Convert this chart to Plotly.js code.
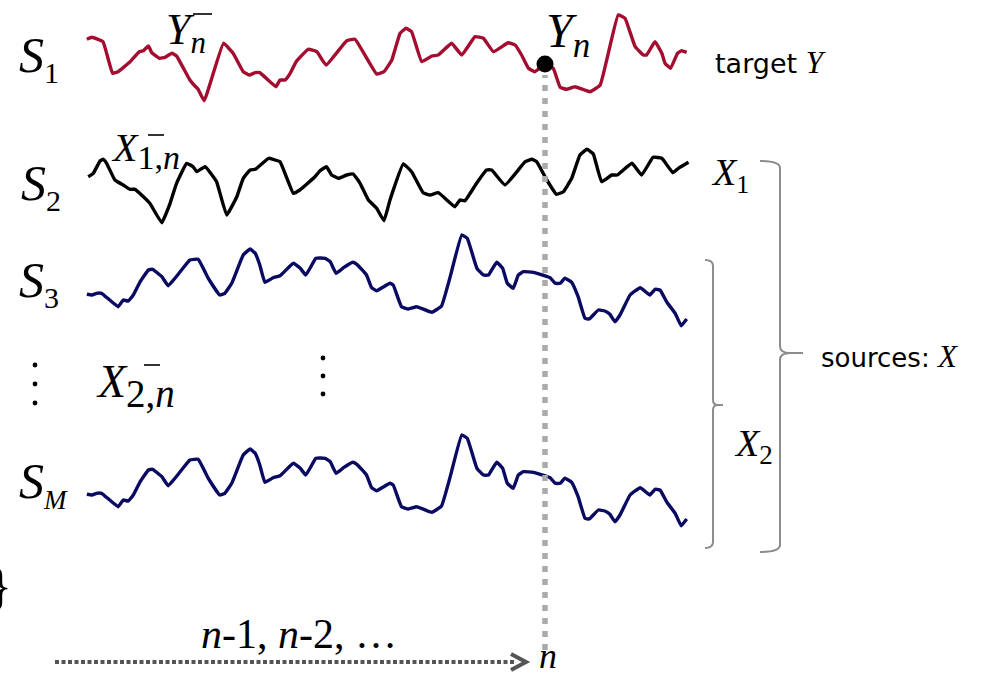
<!DOCTYPE html>
<html>
<head>
<meta charset="utf-8">
<script src="https://cdn.plot.ly/plotly-3.0.1.min.js"></script>
<style>
  html, body { margin: 0; padding: 0; background: #ffffff; }
  #chart { width: 992px; height: 676px; }
</style>
</head>
<body>
<div id="chart"></div>
<script>
// ---- signal data: sample times (n = 100 is the current step) and values ----
const nIndex = 100;

// S1 : target Y
const tS1 = [0.4,1.5,3.9,6.0,7.2,9.8,11.8,12.7,13.8,14.5,16.2,17.4,18.9,19.9,22.8,23.9,24.6,25.9,30.1,32.2,34.4,35.7,37.0,38.0,41.5,42.4,43.5,44.6,45.9,48.5,50.4,52.4,56.9,58.7,63.4,65.0,66.7,68.5,69.8,71.0,73.2,75.4,76.8,79.7,81.9,84.8,86.6,88.8,92.0,93.5,94.9,96.4,97.8,100,101.8,103.3,104.7,106.5,109.8,112.0,115.9,117.4,119.6,121.4,122.1,123.9,125.4,126.1,127.3,128.8,129.7,130.8];
const yS1 = [18.7,20.7,16.3,-15.3,-13.7,-3.7,6.3,7.3,12,5.3,-0.3,0.7,4.7,2,-22,-28,-31.3,-42.7,14.7,4.7,-13.7,-17,-14.7,-14.7,-28.7,-22,-22,-15.3,-3.7,8.7,6.3,-7,17.3,18.7,-16,-13.7,-2,24.7,29.7,26.3,-3.7,2,3,14.7,3,21.3,19.7,6.3,15.3,13,3,-10.3,-13.7,-6,-10.3,-29.3,-31.3,-28.7,-33.7,-27,43,39.7,11.3,3,3,16.3,4.7,-5.3,-10.3,4.7,7.3,5.7];

// S2 : source X1
const tS2 = [0.7,1.8,3.3,4.0,4.7,6.5,8.3,9.8,10.9,12.3,14.1,16.7,18.5,19.9,22.1,23.5,24.3,26.1,28.6,30.8,33.0,34.4,35.9,37.0,39.9,40.9,42.4,45.3,46.7,50.0,51.1,52.5,53.6,55.1,56.9,58.3,59.8,61.6,63.4,65.0,66.3,69.2,71.0,73.5,75.0,76.8,80.4,81.5,82.6,85.2,87.3,88.4,91.3,95.7,97.1,98.2,100.4,102.5,104.0,105.8,107.6,109.1,110.5,112.3,114.5,115.7,118.9,121.0,123.5,125.4,127.8,129.0,131.2];
const yS2 = [9.3,12.7,25.3,26.7,22.7,6,1,-3.3,-3.3,-9,-17.3,-36.7,-17.3,2.7,22.7,19.3,14.3,19.3,4.3,-29,-10.7,7.7,16,16.7,27.7,26.7,24.3,-7.3,-4,9.3,15.3,19.3,11,7.7,11,12,2.7,-14,-22.3,-34.7,-14,22,14.3,-6.7,-9,-6.7,-20.7,-14,-14.7,3.3,16,16,1,24.3,26.7,24.3,6,-8.3,-5.7,7.7,31,36.7,32,4.3,11,11,22.7,11,28.7,27.7,13.3,17.7,23.7];

// S3 : first channel of source X2
const tS3 = [0.4,1.5,2.5,3.6,7.2,8.3,9.4,10.5,12.0,13.8,14.7,16.7,18.1,20.7,22.8,24.6,26.8,29.3,30.4,31.9,34.4,35.9,37.0,38.0,39.1,40.9,42.4,45.3,46.7,48.0,50.2,52.2,53.3,54.6,56.2,58.2,59.1,61.2,62.3,63.4,66.3,67.0,68.8,70.3,72.1,75.4,77.5,79.3,81.9,83.1,85.2,86.6,87.7,89.5,90.8,91.8,93.1,94.2,95.3,97.5,101.1,102.2,103.3,104.3,105.8,107.2,108.7,109.6,111.6,113.0,114.1,115.2,116.3,118.5,120.7,122.8,123.9,125.0,126.5,128.3,129.6,130.8];
const yS3 = [-14.3,-15,-13.3,-13.3,-26.7,-20,-21,-15,-1.7,10,10.7,3.3,-5.7,8.3,20,20.7,1.7,-15,-13.3,-3.3,25,31,26.7,15,-2.3,2.3,4.3,16.7,12.3,5,21.7,21.7,18.3,6.7,12.3,17.7,15.7,5,-7.7,-10.7,-3.3,-5,-26.7,-29,-26.7,-32.3,-26,1.7,45,41.7,11.7,5,5,17.7,11.7,-3.3,-8.3,5,8.3,7.7,2.3,-3.3,-3.3,1.7,-2.3,-16.7,-38.3,-39,-30,-31,-34.3,-41.7,-35,-15,-7.7,-15,-9.3,-10,-22.3,-33.3,-45.7,-39];

// SM : last channel of source X2
const tSM = [0.4,1.5,2.5,3.6,7.2,8.3,9.4,10.5,12.0,13.8,14.7,16.7,18.1,20.7,22.8,24.6,26.8,29.3,30.4,31.9,34.4,35.9,37.0,38.0,39.1,40.9,42.4,45.3,46.7,48.0,50.2,52.2,53.3,54.6,56.2,58.2,59.1,61.2,62.3,63.4,66.3,67.0,68.8,70.3,72.1,75.4,77.5,79.3,81.9,83.1,85.2,86.6,87.7,89.5,90.8,91.8,93.1,94.2,95.3,97.5,101.1,102.2,103.3,104.3,105.8,107.2,108.7,109.6,111.6,113.0,114.1,115.2,116.3,118.5,120.7,122.8,123.9,125.0,126.5,128.3,129.6,130.8];
const ySM = [-14.3,-15,-13.3,-13.3,-26.7,-20,-21,-15,-1.7,10,10.7,3.3,-5.7,8.3,20,20.7,1.7,-15,-13.3,-3.3,25,31,26.7,15,-2.3,2.3,4.3,16.7,12.3,5,21.7,21.7,18.3,6.7,12.3,17.7,15.7,5,-7.7,-10.7,-3.3,-5,-26.7,-29,-26.7,-32.3,-26,1.7,45,41.7,11.7,5,5,17.7,11.7,-3.3,-8.3,5,8.3,7.7,2.3,-3.3,-3.3,1.7,-2.3,-16.7,-38.3,-39,-30,-31,-34.3,-41.7,-35,-15,-7.7,-15,-9.3,-10,-22.3,-33.3,-45.7,-39];

// ---- page geometry ----
const W = 992, H = 676;
const X = px => px / W;           // pixel -> paper x
const Y = py => 1 - py / H;       // pixel -> paper y
const ORIGIN_PX = 85, STEP_PX = 4.6;

// one horizontal band per signal row: [centre px, half height px]
function band(c, h) { return { domain: [Y(c + h), Y(c - h)], range: [-h, h] }; }
const bS1 = band(58, 48), bS2 = band(186, 42), bS3 = band(280, 50), bSM = band(480, 50);

const RED = '#a30d2f', NAVY = '#0a0a62';
const SERIF = 'Liberation Serif, Times New Roman, serif';
const SANS = 'DejaVu Sans, Verdana, sans-serif';

const lineStyle = c => ({ color: c, width: 3.4, shape: 'spline', smoothing: 0.3 });
const traces = [
  { x: tS1, y: yS1, xaxis: 'x', yaxis: 'y',  mode: 'lines', line: lineStyle(RED),   hoverinfo: 'skip' },
  { x: tS2, y: yS2, xaxis: 'x', yaxis: 'y2', mode: 'lines', line: lineStyle('#000'), hoverinfo: 'skip' },
  { x: tS3, y: yS3, xaxis: 'x', yaxis: 'y3', mode: 'lines', line: lineStyle(NAVY),  hoverinfo: 'skip' },
  { x: tSM, y: ySM, xaxis: 'x', yaxis: 'y4', mode: 'lines', line: lineStyle(NAVY),  hoverinfo: 'skip' },
  // current sample Y_n
  { x: [nIndex], y: [yS1[tS1.indexOf(nIndex)]], xaxis: 'x', yaxis: 'y', mode: 'markers',
    marker: { color: '#000', size: 17 }, hoverinfo: 'skip' }
];

// ---- annotations: (left px, middle px, text, size) ----
function ann(px, py, text, size, extra) {
  return Object.assign({
    xref: 'paper', yref: 'paper', x: X(px), y: Y(py), text: text, showarrow: false,
    font: { family: SERIF, size: size, color: '#000' }, xanchor: 'left', yanchor: 'middle', borderpad: 0
  }, extra || {});
}
// symbol with a subscript of its own size
const sym = (main, sub, subSize) => '<i>' + main + '</i><sub><span style="font-size:' + subSize + 'px">' + sub + '</span></sub>';
const sans = size => ({ font: { family: SANS, size: size, color: '#000' } });
const annotations = [
  // row names
  ann(18, 58,  sym('S', '1', 30), 50),
  ann(20, 186, sym('S', '2', 30), 50),
  ann(18, 283, sym('S', '3', 30), 50),
  ann(18, 484, sym('S', '<i>M</i>', 27), 50),
  // history and present of the target
  ann(165, 33, sym('Y', '<i>n</i>', 31), 44),
  ann(545, 34, sym('Y', '<i>n</i>', 35), 48),
  // history of the sources
  ann(110, 151, sym('X', '1,<i>n</i>', 34), 40),
  ann(95, 385,  sym('X', '2,<i>n</i>', 39), 46),
  // right-hand names
  ann(714, 63, 'target <span style="font-family:Liberation Serif;font-size:31px"><i>Y</i></span>', 27, sans(27)),
  ann(710, 175, sym('X', '1', 26), 38),
  ann(733, 446, sym('X', '2', 27), 38),
  ann(820, 356, 'sources: <span style="font-family:Liberation Serif;font-size:31px"><i>X</i></span>', 26, sans(26)),
  // time axis
  ann(299, 634, '<i>n</i>-1, <i>n</i>-2, …', 42, { xanchor: 'center' }),
  ann(548, 656, '<i>n</i>', 36, { xanchor: 'center' }),
  ann(0, 586, '}', 50, { xanchor: 'center' })
];

// ---- shapes: guides, arrow, brackets, bars, vertical ellipses ----
function pathOf(cmds) {
  return cmds.map(c => c[0] + ' ' + c.slice(1).reduce((s, v, i) => s + (i % 2 === 0 ? X(v) : ' ' + Y(v) + ' '), '')).join(' ');
}
function dot(cx, cy, r) {
  return { type: 'circle', xref: 'paper', yref: 'paper', x0: X(cx - r), x1: X(cx + r), y0: Y(cy + r), y1: Y(cy - r),
           fillcolor: '#000', line: { width: 0 } };
}
function bar(x0, x1, y) {
  return { type: 'line', xref: 'paper', yref: 'paper', x0: X(x0), x1: X(x1), y0: Y(y), y1: Y(y), line: { color: '#000', width: 1.6 } };
}
const GREY = '#8c8c8c';
const shapes = [
  // time n guide
  { type: 'line', xref: 'x', yref: 'paper', x0: nIndex, x1: nIndex, y0: Y(650), y1: Y(75),
    line: { color: '#aaaaaa', width: 5.5, dash: '6px,7px' }, layer: 'above' },
  // past-to-present arrow
  { type: 'line', xref: 'paper', yref: 'paper', x0: X(55), x1: X(514), y0: Y(662), y1: Y(662),
    line: { color: '#555555', width: 4, dash: '4px,2.5px' } },
  { type: 'path', xref: 'paper', yref: 'paper', path: pathOf([['M', 511, 654], ['L', 526, 662], ['L', 511, 670]]),
    line: { color: '#555555', width: 4 } },
  // bracket for all sources
  { type: 'path', xref: 'paper', yref: 'paper', line: { color: GREY, width: 2 },
    path: pathOf([['M', 760, 161], ['Q', 780, 161, 780, 168], ['L', 780, 346], ['Q', 780, 353, 790, 353], ['L', 803, 353],
                  ['M', 790, 353], ['Q', 780, 353, 780, 360], ['L', 780, 545], ['Q', 780, 552, 760, 552]]) },
  // bracket for X2
  { type: 'path', xref: 'paper', yref: 'paper', line: { color: GREY, width: 2 },
    path: pathOf([['M', 705, 260], ['Q', 713, 260, 713, 266], ['L', 713, 400], ['Q', 713, 405, 718, 405], ['L', 723, 405],
                  ['M', 718, 405], ['Q', 713, 405, 713, 410], ['L', 713, 542], ['Q', 713, 548, 705, 548]]) },
  // past-history bars
  bar(193, 212, 14), bar(148, 164, 135), bar(144, 160, 365),
  // vertical ellipses
  dot(35, 365, 2.4), dot(35, 384, 2.4), dot(35, 403, 2.4),
  dot(323, 358, 2.4), dot(323, 376, 2.4), dot(323, 394, 2.4)
];

const hidden = { visible: false, fixedrange: true, showgrid: false, zeroline: false };
const layout = {
  width: W, height: H,
  margin: { l: 0, r: 0, t: 0, b: 0, pad: 0 },
  paper_bgcolor: '#ffffff', plot_bgcolor: 'rgba(0,0,0,0)',
  showlegend: false,
  xaxis:  Object.assign({ range: [-ORIGIN_PX / STEP_PX, (W - ORIGIN_PX) / STEP_PX], domain: [0, 1], anchor: 'y' }, hidden),
  yaxis:  Object.assign({ domain: bS1.domain, range: bS1.range, anchor: 'x' }, hidden),
  yaxis2: Object.assign({ domain: bS2.domain, range: bS2.range, anchor: 'x' }, hidden),
  yaxis3: Object.assign({ domain: bS3.domain, range: bS3.range, anchor: 'x' }, hidden),
  yaxis4: Object.assign({ domain: bSM.domain, range: bSM.range, anchor: 'x' }, hidden),
  annotations: annotations,
  shapes: shapes
};

Plotly.newPlot('chart', traces, layout, { displayModeBar: false, staticPlot: true });
</script>
</body>
</html>
